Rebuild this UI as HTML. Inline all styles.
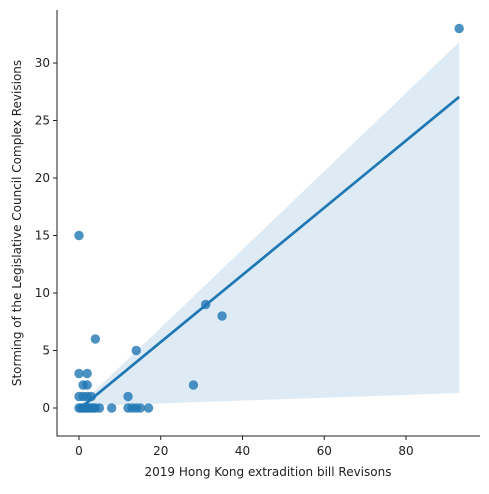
<!DOCTYPE html>
<html><head><meta charset="utf-8"><style>
body{margin:0;background:#fff;font-family:"Liberation Sans","DejaVu Sans",sans-serif}
svg text{font-family:"DejaVu Sans","Liberation Sans",sans-serif;font-size:12px;fill:#222}
</style></head><body>
<svg id="c" width="489" height="489"></svg>
<script>
const xs=[0,0.5,1,1.5,2,2.5,3,3.5,4,5,8,12,13,14,15,17,0,1,2,3,12,1,2,28,0,2,4,14,0,31,35,93];
const ys=[0,0,0,0,0,0,0,0,0,0,0,0,0,0,0,0,1,1,1,1,1,2,2,2,3,3,6,5,15,9,8,33];
const xTicks=[0,20,40,60,80];
const yTicks=[0,5,10,15,20,25,30];
const NS='http://www.w3.org/2000/svg',svg=document.getElementById('c');
const X=v=>79+v*4.0875, Y=v=>408-v*11.5;
function el(t,a,p){const e=document.createElementNS(NS,t);for(const k in a)e.setAttribute(k,a[k]);(p||svg).appendChild(e);return e;}
const n=xs.length,mx=xs.reduce((a,b)=>a+b)/n,my=ys.reduce((a,b)=>a+b)/n;
let sxx=0,sxy=0;xs.forEach((x,i)=>{sxx+=(x-mx)**2;sxy+=(x-mx)*(ys[i]-my);});
const b=sxy/sxx,a=my-b*mx;
const xmax=Math.max(...xs);
let up=[],lo=[];
for(let i=0;i<=60;i++){const x=xmax*i/60;const yh=a+b*x;const f=x/xmax;
up.push(X(x)+','+Y(yh+0.3+yh*0.165));
lo.unshift(X(x)+','+Y(Math.min(yh,0.15+1.15*f)));}
let e=el('polygon',{points:up.concat(lo).join(' '),fill:'#1f77b4','fill-opacity':0.15});

xs.forEach((x,i)=>{const c=el('circle',{cx:X(x),cy:Y(ys[i]),r:4.7,fill:'#1f77b4','fill-opacity':0.8});
});
e=el('line',{x1:X(0),y1:Y(a),x2:X(xmax),y2:Y(a+b*xmax),stroke:'#1f77b4','stroke-width':2.7});

e=el('line',{x1:57,y1:10,x2:57,y2:436.5,stroke:'#222','stroke-width':1});

e=el('line',{x1:56.5,y1:436,x2:480,y2:436,stroke:'#222','stroke-width':1});

xTicks.forEach(t=>{el('line',{x1:X(t),y1:436,x2:X(t),y2:440,stroke:'#222'});
const tx=el('text',{x:X(t),y:455,'text-anchor':'middle'});tx.textContent=t;
});
yTicks.forEach(t=>{el('line',{x1:53,y1:Y(t),x2:57,y2:Y(t),stroke:'#222'});
const tx=el('text',{x:50,y:Y(t)+4,'text-anchor':'end'});tx.textContent=t;
});
e=el('text',{x:268,y:476,'text-anchor':'middle'});e.textContent='2019 Hong Kong extradition bill Revisons';

e=el('text',{x:21,y:223,'text-anchor':'middle',transform:'rotate(-90 21 223)'});e.textContent='Storming of the Legislative Council Complex Revisions';

</script>
</body></html>
